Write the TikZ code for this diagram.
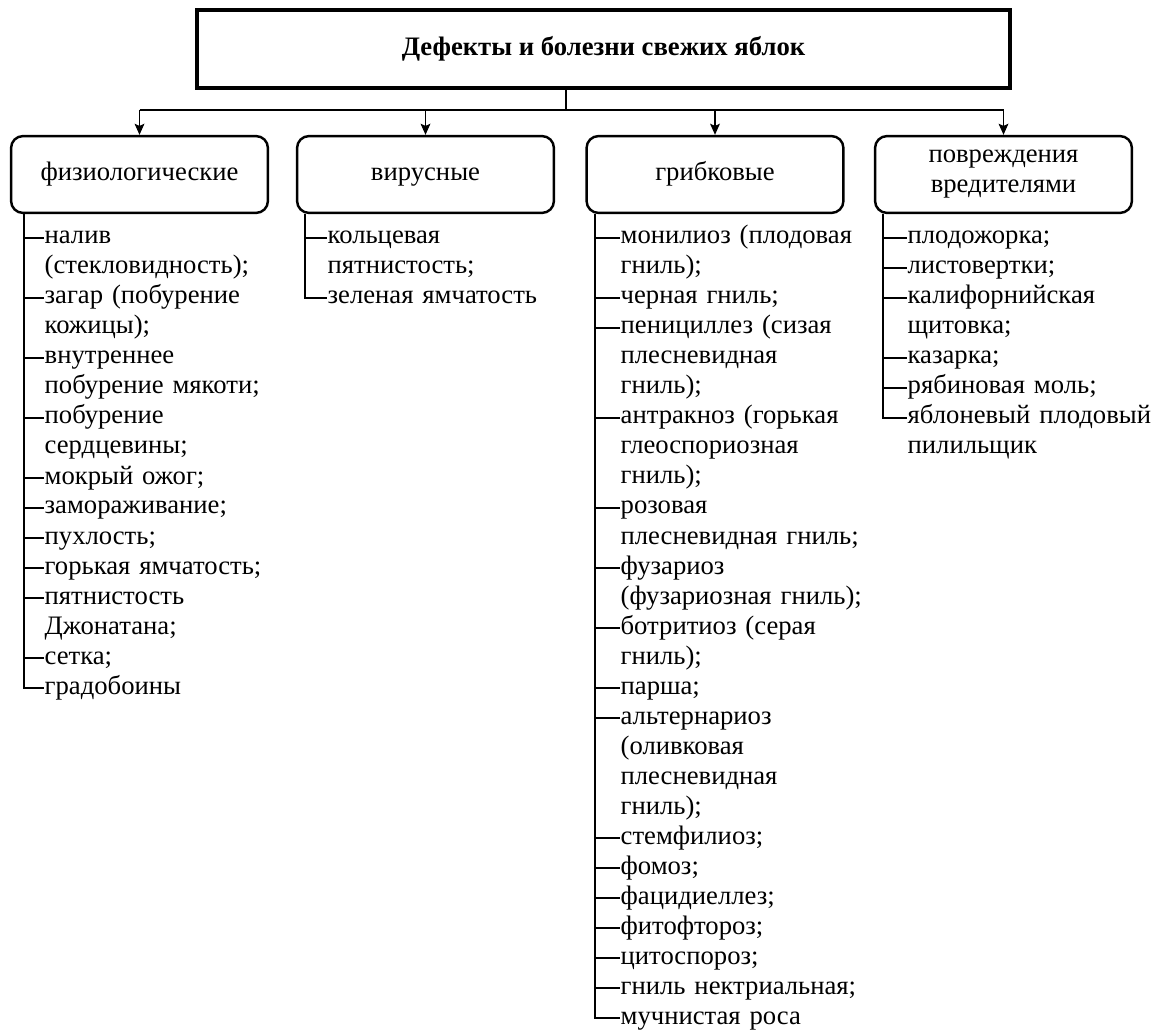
\documentclass[tikz,border=0pt]{standalone}
\usepackage{fontspec}
\setmainfont{Liberation Serif}
\usetikzlibrary{positioning,arrows.meta}
\begin{document}
\begin{tikzpicture}[x=0.45pt,y=-0.45pt,>={Stealth[length=5pt,width=4.4pt,inset=1pt]},line width=0.6pt,
    font=\fontsize{12}{13.5}\selectfont,
    rootbox/.style={draw,line width=1.6pt,minimum width=365.8pt,minimum height=35.1pt,font=\fontsize{12}{13.5}\selectfont\bfseries},
    groupbox/.style={draw,line width=1.1pt,rounded corners=5.4pt,minimum width=115.6pt,minimum height=34.6pt,align=center},
    oneline/.style={text height=8pt,text depth=2.5pt},
    item/.style={anchor=base west,inner sep=0pt,align=left,text width=125pt},
    trunk/.style={line width=0.9pt}]
\useasboundingbox (0,0) rectangle (1153,1032);
\node[rootbox,oneline] (root) at (603.5,49) {Дефекты и болезни свежих яблок};
\node[groupbox,oneline] (phys) at (139.5,174.5) {физиологические};
\node[groupbox,oneline] (vir) at (425.5,174.5) {вирусные};
\node[groupbox,oneline] (fung) at (715,174.5) {грибковые};
\node[groupbox] (pest) at (1003.5,174.5) {повреждения\\вредителями};
\coordinate (fork) at (566,110);
\draw (root.south -| fork) -- (fork);
\draw (phys.north |- fork) -- (pest.north |- fork);
\foreach \g in {phys,vir,fung,pest}
  \draw[->] (\g.north |- fork) -- (\g.north);
\coordinate (tph) at ([xshift=6.3pt]phys.south west);
\coordinate (tvi) at ([xshift=4.2pt]vir.south west);
\coordinate (tfu) at ([xshift=4.2pt]fung.south west);
\coordinate (tpe) at ([xshift=4.2pt]pest.south west);
\foreach \l/\t in {0/{налив\\(стекловидность);},2/{загар (побурение\\кожицы);},
    4/{внутреннее\\побурение мякоти;},6/{побурение\\сердцевины;},8/{мокрый ожог;},
    9/{замораживание;},10/{пухлость;},11/{горькая ямчатость;},
    12/{пятнистость\\Джонатана;},14/{сетка;},15/{градобоины}}{
  \node[item] (ph\l) at (44,{244+30*\l}) {\t};
  \coordinate (kph\l) at ([yshift=2.7pt]ph\l.base west);
  \draw[trunk] (kph\l -| tph) -- (kph\l);
}
\draw[trunk] (tph) |- (kph15);
\foreach \l/\t in {0/{кольцевая\\пятнистость;},2/{зеленая ямчатость}}{
  \node[item] (vi\l) at (327,{244+30*\l}) {\t};
  \coordinate (kvi\l) at ([yshift=2.7pt]vi\l.base west);
  \draw[trunk] (kvi\l -| tvi) -- (kvi\l);
}
\draw[trunk] (tvi) |- (kvi2);
\foreach \l/\t in {0/{монилиоз (плодовая\\гниль);},2/{черная гниль;},
    3/{пенициллез (сизая\\плесневидная\\гниль);},6/{антракноз (горькая\\глеоспориозная\\гниль);},
    9/{розовая\\плесневидная гниль;},11/{фузариоз\\(фузариозная гниль);},
    13/{ботритиоз (серая\\гниль);},15/{парша;},
    16/{альтернариоз\\(оливковая\\плесневидная\\гниль);},20/{стемфилиоз;},21/{фомоз;},
    22/{фацидиеллез;},23/{фитофтороз;},24/{цитоспороз;},25/{гниль нектриальная;},
    26/{мучнистая роса}}{
  \node[item] (fu\l) at (620,{244+30*\l}) {\t};
  \coordinate (kfu\l) at ([yshift=2.7pt]fu\l.base west);
  \draw[trunk] (kfu\l -| tfu) -- (kfu\l);
}
\draw[trunk] (tfu) |- (kfu26);
\foreach \l/\t in {0/{плодожорка;},1/{листовертки;},2/{калифорнийская\\щитовка;},
    4/{казарка;},5/{рябиновая моль;},6/{яблоневый плодовый\\пилильщик}}{
  \node[item] (pe\l) at (907,{244+30*\l}) {\t};
  \coordinate (kpe\l) at ([yshift=2.7pt]pe\l.base west);
  \draw[trunk] (kpe\l -| tpe) -- (kpe\l);
}
\draw[trunk] (tpe) |- (kpe6);
\end{tikzpicture}
\end{document}
